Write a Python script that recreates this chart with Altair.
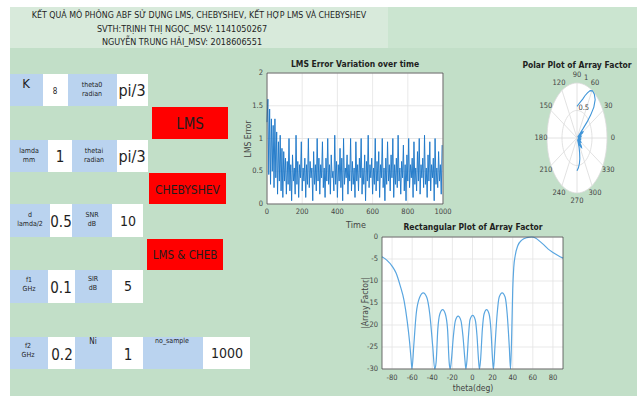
import altair as alt
import pandas as pd

# ---------------- values ----------------
title_lines = [
    "KẾT QUẢ MÔ PHỎNG ABF SỬ DỤNG LMS, CHEBYSHEV, KẾT HỢP LMS VÀ CHEBYSHEV",
    "SVTH:TRỊNH THỊ NGỌC_MSV: 1141050267",
    "NGUYỄN TRUNG HẢI_MSV: 2018606551",
]
param_labels = ["K", "theta0\nradian", "lamda\nmm", "thetai\nradian", "d\nlamda/2", "SNR\ndB",
                "f1\nGHz", "SIR\ndB", "f2\nGHz", "Ni", "no_sample"]
param_values = ["8", "pi/3", "1", "pi/3", "0.5", "10", "0.1", "5", "0.2", "1", "1000"]
button_labels = ["LMS", "CHEBYSHEV", "LMS & CHEB"]

lms_step = 5
lms_error = [
    1.25, 1.6, 0.45, 1.45, 0.3, 1.3, 0.5, 1.2, 0.25, 1.3, 0.4, 1.1, 0.15, 0.95, 0.35, 1.05, 0.2, 0.85, 0.1, 0.8,
    0.35, 0.7, 0.15, 0.65, 0.3, 1.0, 0.2, 0.6, 0.05, 0.75, 0.35, 0.55, 0.15, 1.05, 0.3, 0.65, 0.1, 0.6, 0.4, 0.95,
    0.2, 0.55, 0.35, 0.7, 0.1, 0.6, 0.3, 1.0, 0.25, 0.65, 0.4, 0.55, 0.05, 0.8, 0.3, 0.6, 0.2, 1.0, 0.35, 0.7,
    0.15, 0.6, 0.4, 0.95, 0.25, 0.55, 0.1, 0.7, 0.35, 1.0, 0.3, 0.6, 0.15, 0.75, 0.4, 0.5, 0.2, 1.05, 0.3, 0.65,
    0.1, 0.6, 0.35, 0.85, 0.25, 0.7, 0.05, 1.0, 0.3, 0.55, 0.4, 0.75, 0.15, 0.6, 0.35, 1.0, 0.2, 0.65, 0.3, 0.55,
    0.1, 0.95, 0.35, 0.6, 0.2, 0.7, 0.4, 1.0, 0.15, 0.55, 0.3, 0.75, 0.05, 0.65, 0.35, 1.05, 0.25, 0.6, 0.4, 0.7,
    0.15, 0.55, 0.3, 1.0, 0.2, 0.65, 0.35, 0.8, 0.1, 0.6, 0.4, 1.0, 0.25, 0.55, 0.05, 0.7, 0.3, 0.95, 0.35, 0.6,
    0.2, 0.75, 0.4, 1.0, 0.1, 0.6, 0.3, 0.7, 0.25, 1.05, 0.35, 0.55, 0.15, 0.65, 0.4, 0.9, 0.2, 0.6, 0.05, 0.75,
    0.35, 1.0, 0.25, 0.6, 0.4, 0.7, 0.1, 0.95, 0.3, 0.55, 0.2, 0.8, 0.35, 1.0, 0.15, 0.6, 0.4, 0.7, 0.25, 1.05,
    0.3, 0.55, 0.1, 0.75, 0.35, 0.95, 0.2, 0.6, 0.4, 0.7, 0.05, 1.0, 0.3, 0.55, 0.25, 0.8, 0.35, 0.6, 0.15, 0.9,
]

rect_theta = [-90, -85, -80, -76, -72, -68, -65, -62.5, -61, -60.2,
              -58.5, -56, -52.5, -49, -45.5, -42.5, -39.5, -37.6,
              -36.2, -34.5, -32.5, -29.7, -27, -24.8, -23.2, -22.2,
              -21, -19, -17, -14.3, -11.5, -9.5, -7.5, -6.6,
              -5.5, -4, -2.5, 0.2, 2.7, 4.5, 6, 6.9,
              8, 9.8, 11.5, 14, 16.5, 18.3, 20, 20.9,
              22.3, 24.5, 26.5, 29.5, 32.5, 34.5, 36.6, 37.8,
              39, 40, 41, 42.5, 45, 49, 54, 59, 63, 67, 71, 75, 80, 85, 90]
rect_db = [-4.5, -5.3, -6.6, -8.2, -11, -14.5, -19, -24, -28, -30,
           -25, -17.5, -13.7, -12.7, -13.7, -17.5, -25, -30,
           -28.5, -21, -17.5, -16.5, -17.5, -21, -28.5, -30,
           -28, -22.5, -19, -18, -19, -22.5, -28, -30,
           -28, -22.5, -18.8, -17.8, -18.8, -22.5, -28, -30,
           -28, -21, -17.5, -16.5, -17.5, -21, -28, -30,
           -25, -17.5, -13.7, -12.7, -13.7, -17.5, -25, -30,
           -22, -12, -7, -4.2, -2, -0.7, -0.15, 0, -0.3, -1.0, -1.8, -2.7, -3.5, -4.2, -4.8]

lms_xticks = [0, 200, 400, 600, 800, 1000]
lms_yticks = [0, 0.5, 1, 1.5, 2]
rect_xticks = [-80, -60, -40, -20, 0, 20, 40, 60, 80]
rect_yticks = [0, -5, -10, -15, -20, -25, -30]
polar_angles = [0, 30, 60, 90, 120, 150, 180, 210, 240, 270, 300, 330]
polar_rings = [0.5, 1]

# ---------------- layout & style ----------------
FONT = "Liberation Sans Narrow, DejaVu Sans Condensed, Liberation Sans, sans-serif"
W, H = 637, 396
GREEN, GREEN_LIGHT, GREEN_MID = "#c2dfc8", "#d8eadb", "#cbe5d0"
BLUE_BOX, RED = "#bad3ef", "#ff0000"
TXT = "#1e1e1e"
LINE_BLUE = "#1f78c8"

# gui widget geometry (pixels)
rows = [(74, 106), (140, 172), (204, 237), (270, 303), (337, 369)]
label_cells = [(0, 10, 43), (0, 68, 117), (1, 10, 48), (1, 72, 117), (2, 10, 50), (2, 72, 112),
               (3, 10, 48), (3, 75, 112), (4, 10, 48), (4, 75, 112), (4, 143, 203)]
value_cells = [(0, 43, 68), (0, 117, 148), (1, 48, 72), (1, 117, 148), (2, 50, 72), (2, 112, 143),
               (3, 48, 75), (3, 112, 143), (4, 48, 75), (4, 112, 143), (4, 203, 250)]
label_pos = [(26, 84, 13), (92, 85, 7), (29, 151, 7), (94, 151, 7), (30, 215, 7), (92, 215, 7),
             (29, 280, 7), (93, 279, 7), (28, 346, 7), (93, 342, 8), (172, 341, 7)]
value_pos = [(55, 92, 8), (132, 91, 16), (60, 157, 15), (132, 157, 16), (61, 222, 15), (128, 222, 14),
             (61, 288, 15), (128, 287, 14), (62, 355, 15), (128, 355, 15), (227, 354, 14)]
button_cells = [(152, 228, 107, 139, 15), (149, 226, 173, 204, 12), (147, 223, 239, 270, 11.5)]
title_pos = [(199, 15), (182, 29), (182, 42)]
title_sizes = [8.8, 9, 9]

boxes = [dict(x=10, x2=W, y=7, y2=H, fill=GREEN),
         dict(x=10, x2=388, y=7, y2=48, fill=GREEN_LIGHT),
         dict(x=388, x2=W, y=7, y2=48, fill=GREEN_MID)]
for r, a, b in label_cells:
    boxes.append(dict(x=a, x2=b, y=rows[r][0], y2=rows[r][1], fill=BLUE_BOX))
for r, a, b in value_cells:
    boxes.append(dict(x=a, x2=b, y=rows[r][0], y2=rows[r][1], fill="#ffffff"))
for a, b, c, d, _ in button_cells:
    boxes.append(dict(x=a, x2=b, y=c, y2=d, fill=RED))
boxes_df = pd.DataFrame(boxes)

texts = []
for t, (x, y), s in zip(title_lines, title_pos, title_sizes):
    texts.append(dict(x=x, y=y, text=t, size=s))
for t, (x, y, s) in zip(param_labels, label_pos):
    texts.append(dict(x=x, y=y, text=t, size=s))
for t, (x, y, s) in zip(param_values, value_pos):
    texts.append(dict(x=x, y=y, text=t, size=s))
for t, (a, b, c, d, s) in zip(button_labels, button_cells):
    texts.append(dict(x=(a + b) / 2, y=(c + d) / 2 + 1, text=t, size=s))
texts_df = pd.DataFrame(texts)

gui_boxes = alt.Chart(boxes_df).mark_rect().encode(
    x=alt.X("x:Q", scale=None, axis=None), x2="x2:Q",
    y=alt.Y("y:Q", scale=None, axis=None), y2="y2:Q",
    fill=alt.Fill("fill:N", scale=None),
)
gui_texts = alt.Chart(texts_df).mark_text(
    font=FONT, color=TXT, align="center", baseline="middle", lineBreak="\n", lineHeight=9
).encode(
    x=alt.X("x:Q", scale=None, axis=None), y=alt.Y("y:Q", scale=None, axis=None),
    text="text:N", size=alt.Size("size:Q", scale=None),
)
gui = alt.layer(gui_boxes, gui_texts)

one = pd.DataFrame({"a": [0]})


def cartesian_panel(xs, ys, xticks, yticks, xlab_y, ylab_x):
    x0, x1 = xs.domain[0], xs.domain[1]
    y0, y1 = ys.domain[0], ys.domain[1]
    bg = alt.Chart(one).mark_rect(fill="white").encode(
        x=alt.X(datum=x0, scale=xs, axis=None), x2=alt.X2(datum=x1),
        y=alt.Y(datum=y0, scale=ys, axis=None), y2=alt.Y2(datum=y1))
    gx = alt.Chart(pd.DataFrame({"t": xticks})).mark_rule(color="#e3e3e3", strokeWidth=0.8).encode(
        x=alt.X("t:Q", scale=xs, axis=None),
        y=alt.Y(datum=y0, scale=ys, axis=None), y2=alt.Y2(datum=y1))
    gy = alt.Chart(pd.DataFrame({"t": yticks})).mark_rule(color="#e3e3e3", strokeWidth=0.8).encode(
        y=alt.Y("t:Q", scale=ys, axis=None),
        x=alt.X(datum=x0, scale=xs, axis=None), x2=alt.X2(datum=x1))
    frame = alt.Chart(one).mark_rect(fill=None, stroke="#4a4a4a", strokeWidth=0.8).encode(
        x=alt.X(datum=x0, scale=xs, axis=None), x2=alt.X2(datum=x1),
        y=alt.Y(datum=y0, scale=ys, axis=None), y2=alt.Y2(datum=y1))
    xl = alt.Chart(pd.DataFrame({"t": xticks})).transform_calculate(lbl="'' + datum.t").mark_text(
        font=FONT, fontSize=7.5, color="#444", baseline="middle").encode(
        x=alt.X("t:Q", scale=xs, axis=None), y=alt.value(xlab_y), text="lbl:N")
    yl = alt.Chart(pd.DataFrame({"t": yticks})).transform_calculate(lbl="'' + datum.t").mark_text(
        font=FONT, fontSize=7.5, color="#444", align="right", baseline="middle").encode(
        y=alt.Y("t:Q", scale=ys, axis=None), x=alt.value(ylab_x), text="lbl:N")
    return [bg, gx, gy], [frame, xl, yl]


def free_text(text, x, y, size, bold=False, angle=0, color=TXT):
    kw = dict(font=FONT, fontSize=size, color=color, align="center", baseline="middle")
    if bold:
        kw["fontWeight"] = "bold"
    if angle:
        kw["angle"] = angle
    return alt.Chart(one).mark_text(text=text, **kw).encode(x=alt.value(x), y=alt.value(y))


# ---------------- LMS error panel ----------------
lms_xs = alt.Scale(domain=[lms_xticks[0], lms_xticks[-1]], range=[267, 443], nice=False, zero=False)
lms_ys = alt.Scale(domain=[lms_yticks[0], lms_yticks[-1]], range=[204, 73], nice=False, zero=False)
lms_df = pd.DataFrame({"n": [i * lms_step for i in range(len(lms_error))], "e": lms_error})
under, over = cartesian_panel(lms_xs, lms_ys, lms_xticks, lms_yticks, 212, 263)
lms_line = alt.Chart(lms_df).mark_line(color=LINE_BLUE, strokeWidth=0.95).encode(
    x=alt.X("n:Q", scale=lms_xs, axis=None), y=alt.Y("e:Q", scale=lms_ys, axis=None))
lms = alt.layer(*under, lms_line, *over,
                free_text("LMS Error Variation over time", 355, 64, 8.5, bold=True),
                free_text("Time", 356, 225, 9, color="#444"),
                free_text("LMS Error", 248, 139, 8.5, angle=270, color="#444"))

# ---------------- rectangular array factor panel ----------------
r_xs = alt.Scale(domain=[-90, 90], range=[382, 563], nice=False, zero=False)
r_ys = alt.Scale(domain=[rect_yticks[-1], rect_yticks[0]], range=[369, 237], nice=False, zero=False)
rect_df = pd.DataFrame({"theta": rect_theta, "db": rect_db})
under, over = cartesian_panel(r_xs, r_ys, rect_xticks, rect_yticks, 378, 378)
rect_line = alt.Chart(rect_df).mark_line(color="#5aa6e0", strokeWidth=1.2, interpolate="monotone").encode(
    x=alt.X("theta:Q", scale=r_xs, axis=None), y=alt.Y("db:Q", scale=r_ys, axis=None))
rect = alt.layer(*under, rect_line, *over,
                 free_text("Rectangular Plot of Array Factor", 473, 227, 8.5, bold=True),
                 free_text("theta(deg)", 473, 388, 8.5, color="#444"),
                 free_text("|Array Factor|", 365, 303, 8.5, angle=270, color="#444"))

# ---------------- polar array factor panel ----------------
p_xs = alt.Scale(domain=[-1, 1], range=[547, 607], nice=False, zero=False)
p_ys = alt.Scale(domain=[-1, 1], range=[193, 83], nice=False, zero=False)
PX = dict(scale=p_xs, axis=None)
PY = dict(scale=p_ys, axis=None)

disc = alt.Chart(alt.sequence(0, 181, 3, as_="t")).transform_calculate(
    cx="cos(datum.t*PI/180)", sy="sin(datum.t*PI/180)", ny="-sin(datum.t*PI/180)"
).mark_area(color="white").encode(x=alt.X("cx:Q", **PX), y=alt.Y("sy:Q", **PY), y2="ny:Q")

ring_layers = []
for rr in polar_rings:
    ring_layers.append(
        alt.Chart(alt.sequence(0, 361, 5, as_="t")).transform_calculate(
            cx=f"{rr}*cos(datum.t*PI/180)", cy=f"{rr}*sin(datum.t*PI/180)"
        ).mark_line(color="#dadada", strokeWidth=0.8).encode(
            x=alt.X("cx:Q", **PX), y=alt.Y("cy:Q", **PY), order="t:Q"))

ang_df = pd.DataFrame({"a": polar_angles})
spokes = alt.Chart(ang_df).transform_calculate(
    z="0", cx="cos(datum.a*PI/180)", cy="sin(datum.a*PI/180)"
).mark_rule(color="#dadada", strokeWidth=0.8).encode(
    x=alt.X("z:Q", **PX), y=alt.Y("z:Q", **PY), x2="cx:Q", y2="cy:Q")
ang_labels = alt.Chart(ang_df).transform_calculate(
    cx="1.2*cos(datum.a*PI/180)", cy="1.15*sin(datum.a*PI/180)", lbl="'' + datum.a"
).mark_text(font=FONT, fontSize=7.5, color="#444", baseline="middle").encode(
    x=alt.X("cx:Q", **PX), y=alt.Y("cy:Q", **PY), text="lbl:N")
r_labels = alt.Chart(pd.DataFrame({"r": polar_rings})).transform_calculate(
    cx="(datum.r*1.1)*cos(82*PI/180) + 0.15", cy="(datum.r*1.1)*sin(82*PI/180)", lbl="'' + datum.r"
).mark_text(font=FONT, fontSize=7.5, color="#444", baseline="middle").encode(
    x=alt.X("cx:Q", **PX), y=alt.Y("cy:Q", **PY), text="lbl:N")
polar_curve = alt.Chart(rect_df).transform_calculate(
    cx="pow(10, datum.db/20)*cos(datum.theta*PI/180)",
    cy="pow(10, datum.db/20)*sin(datum.theta*PI/180)",
).mark_line(color="#3f95d8", strokeWidth=1.1).encode(
    x=alt.X("cx:Q", **PX), y=alt.Y("cy:Q", **PY), order="theta:Q")

polar = alt.layer(disc, *ring_layers, spokes, polar_curve, ang_labels, r_labels,
                  free_text("Polar Plot of Array Factor", 577, 65, 8.5, bold=True))

chart = alt.layer(gui, lms, rect, polar).resolve_scale(
    x="independent", y="independent"
).properties(
    width=W, height=H, padding=0, autosize=alt.AutoSizeParams(type="none"), background="white"
).configure_view(stroke=None)

chart.save("out.html", embed_options={"renderer": "svg", "actions": False})
